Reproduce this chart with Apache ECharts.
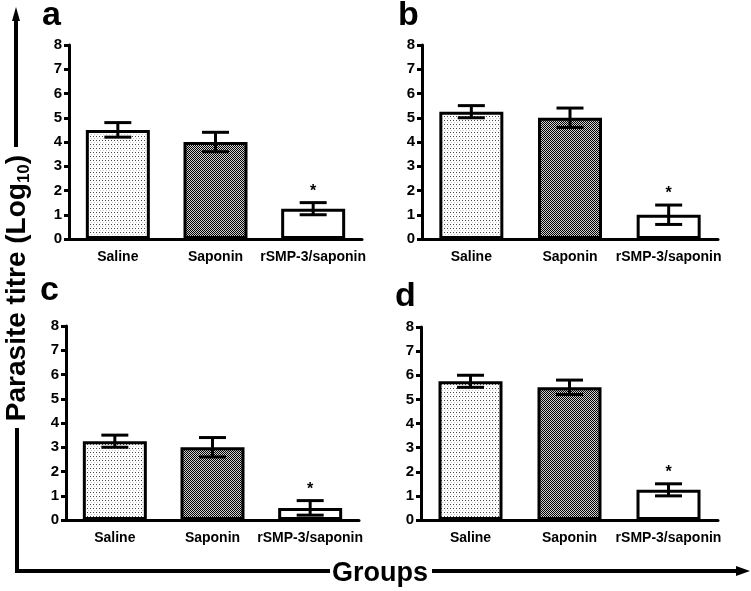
<!DOCTYPE html>
<html><head><meta charset="utf-8">
<script src="https://cdn.jsdelivr.net/npm/echarts@6/dist/echarts.min.js"></script>
<style>html,body{margin:0;padding:0;background:#fff}#chart{width:751px;height:591px}</style>
</head><body><div id="chart"></div>
<script>
// ---- data ----
const categories = ['Saline', 'Saponin', 'rSMP-3/saponin'];
const yTicks = [0, 1, 2, 3, 4, 5, 6, 7, 8];
const panelLetters = ['a', 'b', 'c', 'd'];
const meanA = [4.5, 4.0, 1.25];
const semA = [0.3, 0.4, 0.25];
const meanB = [5.25, 5.0, 1.0];
const semB = [0.25, 0.4, 0.4];
const meanC = [3.25, 3.0, 0.5];
const semC = [0.25, 0.4, 0.3];
const meanD = [5.75, 5.5, 1.25];
const semD = [0.25, 0.3, 0.25];
const significance = ['', '', '*'];
const yAxisTitle = 'Parasite titre (Log{sub|10})';
const xAxisTitle = 'Groups';

const means = [meanA, meanB, meanC, meanD];
const sems = [semA, semB, semC, semD];

// ---- styles ----
const FONT = '"Liberation Sans", Arial, Helvetica, sans-serif';

function makeCanvas(w, h, draw) {
  const c = document.createElement('canvas');
  c.width = w; c.height = h;
  const ctx = c.getContext('2d');
  ctx.fillStyle = '#fff'; ctx.fillRect(0, 0, w, h);
  draw(ctx);
  return c;
}
const dotPattern = makeCanvas(3, 4, ctx => {
  ctx.fillStyle = '#444'; ctx.fillRect(0, 0, 1, 1);
  ctx.fillStyle = '#ccc'; ctx.fillRect(1, 2, 1, 1);
});
const checkPattern = makeCanvas(2, 2, ctx => {
  ctx.fillStyle = '#000'; ctx.fillRect(0, 0, 1, 1); ctx.fillRect(1, 1, 1, 1);
  ctx.fillStyle = '#d0d0d0'; ctx.fillRect(1, 0, 1, 1); ctx.fillRect(0, 1, 1, 1);
});
const fills = [
  { image: dotPattern, repeat: 'repeat' },
  { image: checkPattern, repeat: 'repeat' },
  '#fff'
];

const gridLayouts = [
  { left: 69, top: 45, width: 293, height: 194 },
  { left: 422, top: 45, width: 296, height: 194 },
  { left: 66, top: 326, width: 293, height: 194 },
  { left: 421, top: 327, width: 297, height: 193 }
];
const letterPos = [[42, 16], [398, 16], [40, 291], [395, 297]];

const grids = [], xAxes = [], yAxes = [], series = [], graphics = [];
for (let i = 0; i < 4; i++) {
  grids.push(Object.assign({ containLabel: false, outerBoundsMode: 'none' }, gridLayouts[i]));
  xAxes.push({
    gridIndex: i, type: 'category', data: categories,
    axisLine: { show: true, lineStyle: { color: '#000', width: 3 } },
    axisTick: { show: false },
    axisLabel: { interval: 0, color: '#000', fontWeight: 'bold', fontSize: 14, fontFamily: FONT, margin: 11 },
    splitLine: { show: false }
  });
  yAxes.push({
    gridIndex: i, type: 'value', min: yTicks[0], max: yTicks[yTicks.length - 1], interval: 1,
    axisLine: { show: true, lineStyle: { color: '#000', width: 3 } },
    axisTick: { show: true, length: 5, lineStyle: { color: '#000', width: 3 } },
    axisLabel: { color: '#000', fontWeight: 'bold', fontSize: 15, fontFamily: FONT, margin: 7,
      formatter: v => String(v) },
    splitLine: { show: false }
  });
  series.push({
    type: 'bar', xAxisIndex: i, yAxisIndex: i, barWidth: 64, z: 2,
    data: means[i].map((v, k) => ({ value: v, itemStyle: { color: fills[k] } })),
    itemStyle: { borderColor: '#000', borderWidth: 3 },
    silent: true, animation: false
  });
  series.push({
    type: 'custom', xAxisIndex: i, yAxisIndex: i, z: 5, animation: false, silent: true,
    data: means[i].map((v, k) => [k, v, sems[i][k]]),
    encode: { x: 0, y: 1 },
    renderItem: function (params, api) {
      const k = api.value(0), m = api.value(1), e = api.value(2);
      const top = api.coord([k, m + e]);
      const bot = api.coord([k, m - e]);
      const half = 13.5;
      const ls = { stroke: '#000', lineWidth: 3 };
      const children = [
        { type: 'line', shape: { x1: top[0], y1: top[1], x2: bot[0], y2: bot[1] }, style: ls },
        { type: 'line', shape: { x1: top[0] - half, y1: top[1], x2: top[0] + half, y2: top[1] }, style: ls },
        { type: 'line', shape: { x1: bot[0] - half, y1: bot[1], x2: bot[0] + half, y2: bot[1] }, style: ls }
      ];
      const sig = significance[k];
      if (sig) {
        children.push({ type: 'text', x: top[0], y: top[1] - 3,
          style: { text: sig, fill: '#000', font: 'bold 16px ' + FONT, align: 'center', verticalAlign: 'bottom' } });
      }
      return { type: 'group', children: children };
    }
  });
  graphics.push({
    type: 'text', x: letterPos[i][0], y: letterPos[i][1],
    style: { text: panelLetters[i], fill: '#000', font: 'bold 34px ' + FONT, align: 'left', verticalAlign: 'middle' }
  });
}

// outer axis arrows and titles
graphics.push(
  { type: 'line', shape: { x1: 16, y1: 147, x2: 16, y2: 18 }, style: { stroke: '#000', lineWidth: 4 } },
  { type: 'polygon', shape: { points: [[16, 7], [12, 21], [20, 21]] }, style: { fill: '#000' } },
  { type: 'polyline', shape: { points: [[17, 428], [17, 571], [330, 571]] }, style: { stroke: '#000', lineWidth: 4, fill: null } },
  { type: 'line', shape: { x1: 432, y1: 571, x2: 740, y2: 571 }, style: { stroke: '#000', lineWidth: 4 } },
  { type: 'polygon', shape: { points: [[750, 571], [736, 566], [736, 576]] }, style: { fill: '#000' } },
  {
    type: 'text', x: 17, y: 288, rotation: Math.PI / 2,
    style: {
      text: yAxisTitle, fill: '#000', font: 'bold 28px ' + FONT, align: 'center', verticalAlign: 'middle',
      lineHeight: 32,
      rich: { sub: { fontSize: 17, fontWeight: 'bold', fontFamily: FONT, fill: '#000', verticalAlign: 'bottom', lineHeight: 15 } }
    }
  },
  {
    type: 'text', x: 380, y: 574,
    style: { text: xAxisTitle, fill: '#000', font: 'bold 27px ' + FONT, align: 'center', verticalAlign: 'middle' }
  }
);

const chart = echarts.init(document.getElementById('chart'), null, { renderer: 'canvas' });
chart.setOption({
  animation: false,
  backgroundColor: '#fff',
  grid: grids, xAxis: xAxes, yAxis: yAxes, series: series,
  graphic: graphics
});
</script></body></html>
